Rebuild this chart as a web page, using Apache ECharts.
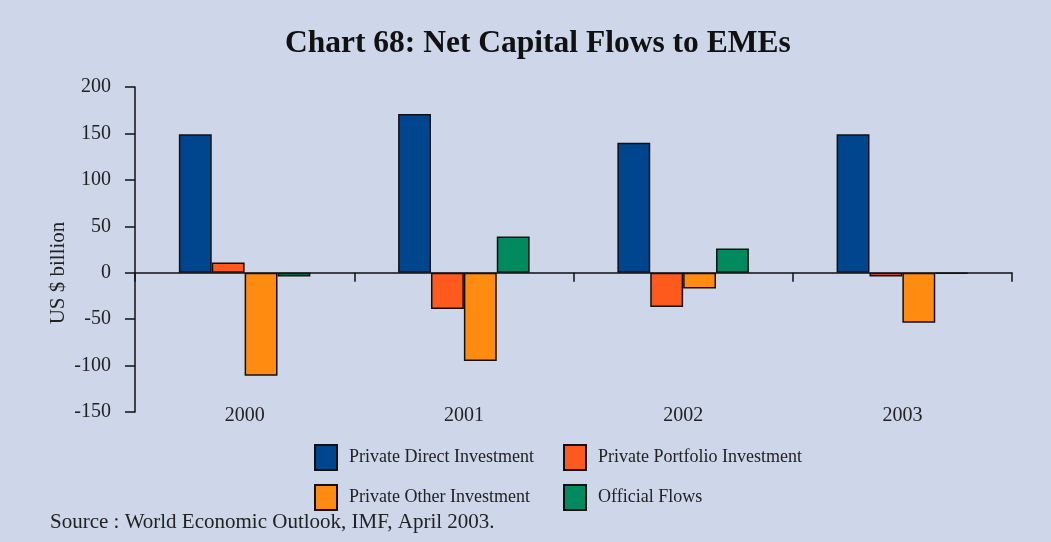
<!DOCTYPE html>
<html>
<head>
<meta charset="utf-8">
<script src="https://cdn.jsdelivr.net/npm/echarts@6/dist/echarts.min.js"></script>
<style>
  html, body { margin: 0; padding: 0; background: #cdd7e9; }
  #chart { width: 1051px; height: 542px; }
</style>
</head>
<body>
<div id="chart"></div>
<script>
// Net capital flows to emerging market economies, US $ billion
const years = ['2000', '2001', '2002', '2003'];
const privateDirect    = [149, 171, 140, 149];
const privatePortfolio = [11, -39, -37, -4];
const privateOther     = [-111, -95, -17, -54];
const officialFlows    = [-4, 39, 26, -1];
const yTicks = { min: -150, max: 200, step: 50 };

const names = ['Private Direct Investment', 'Private Portfolio Investment',
               'Private Other Investment', 'Official Flows'];
const colors = ['#00468f', '#ff5a1e', '#ff8c10', '#008a5e'];
const values = [privateDirect, privatePortfolio, privateOther, officialFlows];

const serif = '"Liberation Serif", "DejaVu Serif", serif';
const textColor = '#222';

const series = names.map((n, i) => ({
  name: n,
  type: 'bar',
  xAxisIndex: 0,
  data: values[i],
  barGap: '0%',
  barCategoryGap: '40%',
  itemStyle: { color: colors[i], borderColor: '#111', borderWidth: 1.5 }
}));

// one legend per item so the two columns line up
const legendPos = [
  { left: 309, top: 439 }, { left: 558, top: 439 },
  { left: 309, top: 479 }, { left: 558, top: 479 }
];
const legends = names.map((n, i) => ({
  data: [n],
  left: legendPos[i].left,
  top: legendPos[i].top,
  icon: 'rect',
  itemWidth: 22,
  itemHeight: 25,
  itemGap: 10,
  selectedMode: false,
  textStyle: { fontFamily: serif, fontSize: 18, color: textColor, padding: [0, 0, 0, 7] }
}));

const chart = echarts.init(document.getElementById('chart'), null, { renderer: 'canvas' });
chart.setOption({
  backgroundColor: '#cdd7e9',
  animation: false,
  title: {
    text: 'Chart 68: Net Capital Flows to EMEs',
    left: 280,
    top: 23,
    textStyle: { fontFamily: serif, fontSize: 31.5, fontWeight: 'bold', color: '#111' }
  },
  graphic: [{
    type: 'text',
    left: 50,
    top: 512,
    style: {
      text: 'Source : World Economic Outlook, IMF, April 2003.',
      font: '21px ' + serif,
      fill: textColor
    }
  }, {
    type: 'text',
    x: 58,
    y: 273,
    rotation: Math.PI / 2,
    style: {
      text: 'US $ billion',
      font: '21px ' + serif,
      fill: textColor,
      align: 'center',
      verticalAlign: 'middle'
    }
  }],
  legend: legends,
  grid: { left: 135, right: 39, top: 87, bottom: 130, containLabel: false },
  xAxis: [{
    type: 'category',
    data: years,
    axisLine: { onZero: true, lineStyle: { color: '#111', width: 1.5 } },
    axisTick: { show: true, length: 9, inside: false, lineStyle: { color: '#111', width: 1.5 } },
    axisLabel: { show: false },
    splitLine: { show: false }
  }, {
    type: 'category',
    data: years,
    position: 'bottom',
    axisLine: { show: false },
    axisTick: { show: false },
    axisLabel: { margin: -6, fontFamily: serif, fontSize: 20, color: textColor },
    splitLine: { show: false }
  }],
  yAxis: {
    type: 'value',
    min: yTicks.min,
    max: yTicks.max,
    interval: yTicks.step,
    axisLine: { show: true, lineStyle: { color: '#111', width: 1.5 } },
    axisTick: { show: true, length: 10, lineStyle: { color: '#111', width: 1.5 } },
    axisLabel: { margin: 24, fontFamily: serif, fontSize: 20, color: textColor },
    splitLine: { show: false }
  },
  series: series
});
</script>
</body>
</html>
